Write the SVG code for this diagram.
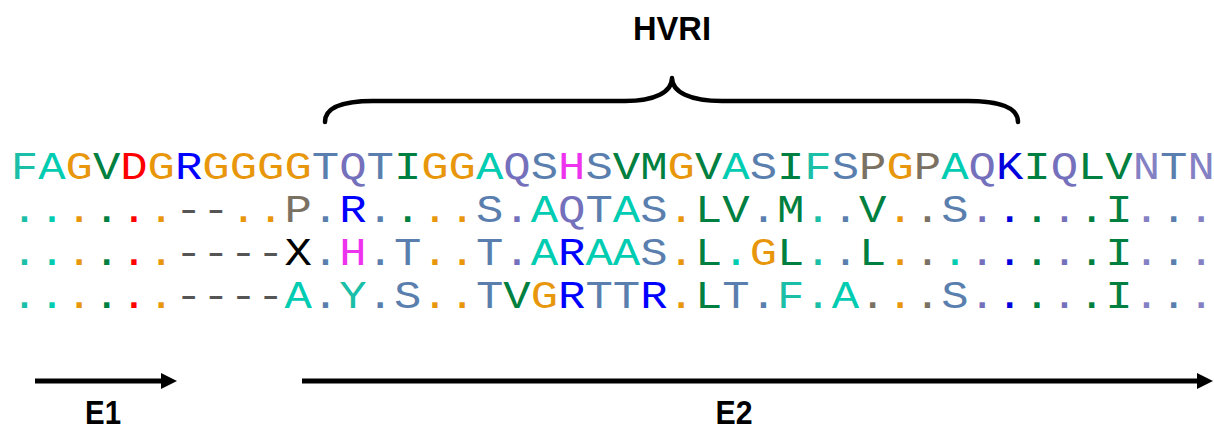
<svg xmlns="http://www.w3.org/2000/svg" width="1214" height="429" viewBox="0 0 1214 429">
<style>
.seq{font-family:"Liberation Mono","DejaVu Sans Mono",monospace;font-size:38px}
.lbl{font-family:"Liberation Sans",Arial,sans-serif;font-weight:bold;font-size:34px;fill:#000}
.f{fill:#1bbfa8}.a{fill:#00ccb2}.g{fill:#e8960c}.h{fill:#008040}.d{fill:#ff0000}.r{fill:#0000ff}.k{fill:#0000dd}.t{fill:#5a7fae}.q{fill:#7470bc}.n{fill:#8480c4}.m{fill:#ee33ee}.p{fill:#7b7163}.x{fill:#000}.gap{fill:#555555}
.brace{fill:none;stroke:#000;stroke-width:4.5;stroke-linecap:round;stroke-linejoin:round}
.arr{stroke:#000;stroke-width:5;fill:none}
</style>
<defs>
<marker id="head" viewBox="0 0 16 16" refX="0" refY="8" markerWidth="16" markerHeight="16" markerUnits="userSpaceOnUse" orient="auto"><path d="M0,0 L16,8 L0,16 Z" fill="#000"/></marker>
</defs>
<g id="hvri">
<path class="brace" d="M325,122 C325,108 340,101 373,101 L625,101 C655,101 672,92 672,78 C672,92 690,101 722,101 L968,101 C1000,101 1018,108 1018,122"/>
<text class="lbl" x="672" y="40" text-anchor="middle" textLength="78" lengthAdjust="spacingAndGlyphs">HVRI</text>
</g>
<g id="alignment" transform="scale(1.2,1)">
<text id="ref" class="seq" x="9" y="179"><tspan class="f">F</tspan><tspan class="a">A</tspan><tspan class="g">G</tspan><tspan class="h">V</tspan><tspan class="d">D</tspan><tspan class="g">G</tspan><tspan class="r">R</tspan><tspan class="g">GGGG</tspan><tspan class="t">T</tspan><tspan class="q">Q</tspan><tspan class="t">T</tspan><tspan class="h">I</tspan><tspan class="g">GG</tspan><tspan class="a">A</tspan><tspan class="q">Q</tspan><tspan class="t">S</tspan><tspan class="m">H</tspan><tspan class="t">S</tspan><tspan class="h">VM</tspan><tspan class="g">G</tspan><tspan class="h">V</tspan><tspan class="a">A</tspan><tspan class="t">S</tspan><tspan class="h">I</tspan><tspan class="f">F</tspan><tspan class="t">S</tspan><tspan class="p">P</tspan><tspan class="g">G</tspan><tspan class="p">P</tspan><tspan class="a">A</tspan><tspan class="q">Q</tspan><tspan class="k">K</tspan><tspan class="h">I</tspan><tspan class="q">Q</tspan><tspan class="h">LV</tspan><tspan class="n">N</tspan><tspan class="t">T</tspan><tspan class="n">N</tspan></text>
<text id="seq2" class="seq" x="9" y="222"><tspan class="f">.</tspan><tspan class="a">.</tspan><tspan class="g">.</tspan><tspan class="h">.</tspan><tspan class="d">.</tspan><tspan class="g">.</tspan><tspan class="gap">--</tspan><tspan class="g">..</tspan><tspan class="p">P</tspan><tspan class="t">.</tspan><tspan class="r">R</tspan><tspan class="t">.</tspan><tspan class="h">.</tspan><tspan class="g">..</tspan><tspan class="t">S</tspan><tspan class="q">.</tspan><tspan class="a">A</tspan><tspan class="q">Q</tspan><tspan class="t">T</tspan><tspan class="a">A</tspan><tspan class="t">S</tspan><tspan class="g">.</tspan><tspan class="h">LV</tspan><tspan class="t">.</tspan><tspan class="h">M</tspan><tspan class="f">.</tspan><tspan class="t">.</tspan><tspan class="h">V</tspan><tspan class="g">.</tspan><tspan class="p">.</tspan><tspan class="t">S</tspan><tspan class="q">.</tspan><tspan class="k">.</tspan><tspan class="h">.</tspan><tspan class="q">.</tspan><tspan class="h">.I</tspan><tspan class="n">.</tspan><tspan class="t">.</tspan><tspan class="n">.</tspan></text>
<text id="seq3" class="seq" x="9" y="265"><tspan class="f">.</tspan><tspan class="a">.</tspan><tspan class="g">.</tspan><tspan class="h">.</tspan><tspan class="d">.</tspan><tspan class="g">.</tspan><tspan class="gap">----</tspan><tspan class="x">X</tspan><tspan class="t">.</tspan><tspan class="m">H</tspan><tspan class="t">.T</tspan><tspan class="g">..</tspan><tspan class="t">T</tspan><tspan class="q">.</tspan><tspan class="a">A</tspan><tspan class="r">R</tspan><tspan class="a">AA</tspan><tspan class="t">S</tspan><tspan class="g">.</tspan><tspan class="h">L</tspan><tspan class="a">.</tspan><tspan class="g">G</tspan><tspan class="h">L</tspan><tspan class="f">.</tspan><tspan class="t">.</tspan><tspan class="h">L</tspan><tspan class="g">.</tspan><tspan class="p">.</tspan><tspan class="a">.</tspan><tspan class="q">.</tspan><tspan class="k">.</tspan><tspan class="h">.</tspan><tspan class="q">.</tspan><tspan class="h">.I</tspan><tspan class="n">.</tspan><tspan class="t">.</tspan><tspan class="n">.</tspan></text>
<text id="seq4" class="seq" x="9" y="308"><tspan class="f">.</tspan><tspan class="a">.</tspan><tspan class="g">.</tspan><tspan class="h">.</tspan><tspan class="d">.</tspan><tspan class="g">.</tspan><tspan class="gap">----</tspan><tspan class="a">A</tspan><tspan class="t">.</tspan><tspan class="f">Y</tspan><tspan class="t">.S</tspan><tspan class="g">..</tspan><tspan class="t">T</tspan><tspan class="h">V</tspan><tspan class="g">G</tspan><tspan class="r">R</tspan><tspan class="t">TT</tspan><tspan class="r">R</tspan><tspan class="g">.</tspan><tspan class="h">L</tspan><tspan class="t">T.</tspan><tspan class="f">F.</tspan><tspan class="a">A</tspan><tspan class="p">.</tspan><tspan class="g">.</tspan><tspan class="p">.</tspan><tspan class="t">S</tspan><tspan class="q">.</tspan><tspan class="k">.</tspan><tspan class="h">.</tspan><tspan class="q">.</tspan><tspan class="h">.I</tspan><tspan class="n">.</tspan><tspan class="t">.</tspan><tspan class="n">.</tspan></text>
</g>
<g id="connectors">
<line id="e1-arrow" class="arr" x1="35" y1="381" x2="161" y2="381" marker-end="url(#head)"/>
<line id="e2-arrow" class="arr" x1="302" y1="381" x2="1197" y2="381" marker-end="url(#head)"/>
</g>
<g id="e1"><text class="lbl" x="103" y="424" text-anchor="middle" textLength="36" lengthAdjust="spacingAndGlyphs">E1</text></g>
<g id="e2"><text class="lbl" x="734" y="424" text-anchor="middle" textLength="37" lengthAdjust="spacingAndGlyphs">E2</text></g>
</svg>
